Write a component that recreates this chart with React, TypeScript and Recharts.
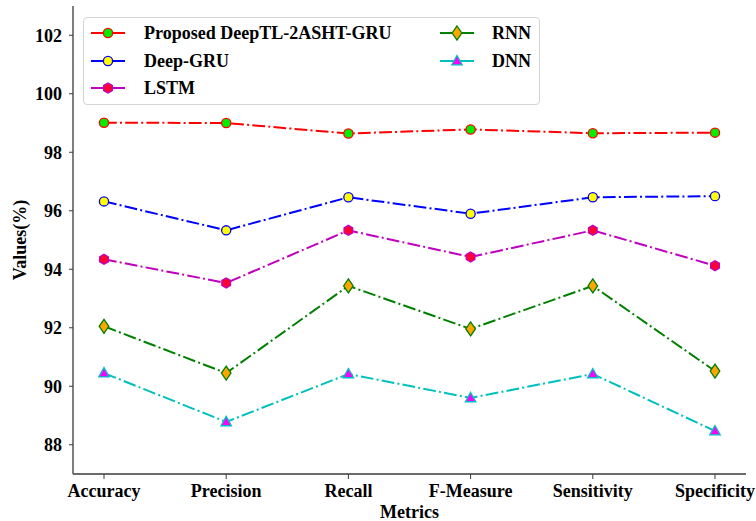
import { Label, Legend, Line, LineChart, XAxis, YAxis } from 'recharts'

const METRICS = ['Accuracy', 'Precision', 'Recall', 'F-Measure', 'Sensitivity', 'Specificity']

const PROPOSED = [99.01, 99.0, 98.64, 98.78, 98.65, 98.67]
const DEEP_GRU = [96.32, 95.33, 96.46, 95.9, 96.46, 96.5]
const LSTM = [94.34, 93.53, 95.33, 94.42, 95.33, 94.12]
const RNN = [92.05, 90.45, 93.43, 91.96, 93.43, 90.52]
const DNN = [90.45, 88.78, 90.42, 89.6, 90.42, 88.47]

const Y_TICKS = [88, 90, 92, 94, 96, 98, 100, 102]

type Shape = 'circle' | 'hexagon' | 'diamond' | 'triangle'

type SeriesDef = {
  key: string
  name: string
  color: string
  fill: string
  shape: Shape
}

const SERIES: SeriesDef[] = [
  { key: 'proposed', name: 'Proposed DeepTL-2ASHT-GRU', color: '#ff0000', fill: '#00ee00', shape: 'circle' },
  { key: 'deepGru', name: 'Deep-GRU', color: '#0000ff', fill: '#ffff00', shape: 'circle' },
  { key: 'lstm', name: 'LSTM', color: '#bf00bf', fill: '#ff0033', shape: 'hexagon' },
  { key: 'rnn', name: 'RNN', color: '#008000', fill: '#ffa500', shape: 'diamond' },
  { key: 'dnn', name: 'DNN', color: '#00bfbf', fill: '#ff00ff', shape: 'triangle' },
]

const data = METRICS.map((metric, i) => ({
  metric,
  proposed: PROPOSED[i],
  deepGru: DEEP_GRU[i],
  lstm: LSTM[i],
  rnn: RNN[i],
  dnn: DNN[i],
}))

const FONT = '"Liberation Serif", "Times New Roman", serif'
const AXIS_COLOR = '#3a3a3a'
const DASH = '12.8 3.2 2 3.2'

function Marker({ shape, x, y, fill, stroke }: { shape: Shape; x: number; y: number; fill: string; stroke: string }) {
  const sw = 1.3
  if (shape === 'circle') return <circle cx={x} cy={y} r={4.6} fill={fill} stroke={stroke} strokeWidth={sw} />
  if (shape === 'hexagon') {
    const r = 5
    const pts = [0, 1, 2, 3, 4, 5]
      .map((k) => {
        const a = (Math.PI / 3) * k - Math.PI / 2
        return `${x + r * Math.cos(a)},${y + r * Math.sin(a)}`
      })
      .join(' ')
    return <polygon points={pts} fill={fill} stroke={stroke} strokeWidth={sw} />
  }
  if (shape === 'diamond') {
    const pts = `${x},${y - 7} ${x + 4.8},${y} ${x},${y + 7} ${x - 4.8},${y}`
    return <polygon points={pts} fill={fill} stroke={stroke} strokeWidth={sw} />
  }
  const pts = `${x},${y - 5.5} ${x + 5.2},${y + 3.8} ${x - 5.2},${y + 3.8}`
  return <polygon points={pts} fill={fill} stroke={stroke} strokeWidth={sw} />
}

const makeDot = (s: SeriesDef) => (props: any) => {
  const { cx, cy, index } = props
  if (cx == null || cy == null) return <g key={`${s.key}-${index}`} />
  return <Marker key={`${s.key}-${index}`} shape={s.shape} x={cx} y={cy} fill={s.fill} stroke={s.color} />
}

function LegendBox() {
  return (
    <div
      style={{
        position: 'relative',
        width: 457,
        height: 88,
        boxSizing: 'border-box',
        border: '1px solid #d4d4d4',
        borderRadius: 4,
        background: 'rgba(255,255,255,0.85)',
        fontFamily: FONT,
        fontWeight: 'bold',
        fontSize: 18,
      }}
    >
      {SERIES.map((s, i) => {
        const col = i < 3 ? 0 : 1
        const row = i < 3 ? i : i - 3
        const left = col === 0 ? 6 : 355
        const top = 15 + row * 27.5 - 12
        return (
          <div key={s.key} style={{ position: 'absolute', left, top, height: 24, display: 'flex', alignItems: 'center' }}>
            <svg width={36} height={24} style={{ display: 'block' }}>
              <line x1={1} y1={12} x2={35} y2={12} stroke={s.color} strokeWidth={2} />
              <Marker shape={s.shape} x={18} y={12} fill={s.fill} stroke={s.color} />
            </svg>
            <span style={{ marginLeft: col === 0 ? 18 : 17, color: '#000', whiteSpace: 'nowrap', lineHeight: '24px' }}>
              {s.name}
            </span>
          </div>
        )
      })}
    </div>
  )
}

export default function App() {
  return (
    <div style={{ width: 756, height: 521, background: '#fff' }}>
      <style>{'body{margin:0}'}</style>
      <LineChart width={756} height={521} data={data} margin={{ top: 6, right: 10, bottom: 0, left: 0 }}>
        <XAxis
          dataKey="metric"
          padding={{ left: 31, right: 31 }}
          height={47}
          tickSize={5}
          tickMargin={5}
          interval={0}
          tick={{ fill: '#000', fontFamily: FONT, fontWeight: 'bold', fontSize: 18 }}
          tickLine={{ stroke: AXIS_COLOR }}
          axisLine={{ stroke: AXIS_COLOR, strokeWidth: 1.3 }}
        >
          <Label
            content={({ viewBox }: any) => (
              <text
                x={viewBox.x + viewBox.width / 2}
                y={518}
                textAnchor="middle"
                fontFamily={FONT}
                fontWeight="bold"
                fontSize={18}
                fill="#000"
              >
                Metrics
              </text>
            )}
          />
        </XAxis>
        <XAxis xAxisId="top" orientation="top" dataKey="metric" height={0} tick={false} tickLine={false} axisLine={{ stroke: AXIS_COLOR, strokeWidth: 1.3 }} />
        <YAxis
          domain={[87, 103]}
          ticks={Y_TICKS}
          width={73}
          tickSize={4}
          tickMargin={7}
          tick={{ fill: '#000', fontFamily: FONT, fontWeight: 'bold', fontSize: 18 }}
          tickLine={{ stroke: AXIS_COLOR }}
          axisLine={{ stroke: AXIS_COLOR, strokeWidth: 1.3 }}
        >
          <Label
            content={({ viewBox }: any) => {
              const x = 26
              const y = viewBox.y + viewBox.height / 2
              return (
                <text
                  x={x}
                  y={y}
                  transform={`rotate(-90 ${x} ${y})`}
                  textAnchor="middle"
                  fontFamily={FONT}
                  fontWeight="bold"
                  fontSize={18}
                  fill="#000"
                >
                  Values(%)
                </text>
              )
            }}
          />
        </YAxis>
        <YAxis yAxisId="right" orientation="right" width={0} domain={[87, 103]} tick={false} tickLine={false} axisLine={{ stroke: AXIS_COLOR, strokeWidth: 1.3 }} />
        <Legend
          layout="vertical"
          align="center"
          verticalAlign="middle"
          wrapperStyle={{ left: 83, top: 17, width: 457, height: 88 }}
          content={() => <LegendBox />}
        />
        {SERIES.map((s) => (
          <Line
            key={s.key}
            dataKey={s.key}
            name={s.name}
            type="linear"
            stroke={s.color}
            strokeWidth={2}
            strokeDasharray={DASH}
            dot={makeDot(s)}
            activeDot={false}
            isAnimationActive={false}
          />
        ))}
      </LineChart>
    </div>
  )
}
